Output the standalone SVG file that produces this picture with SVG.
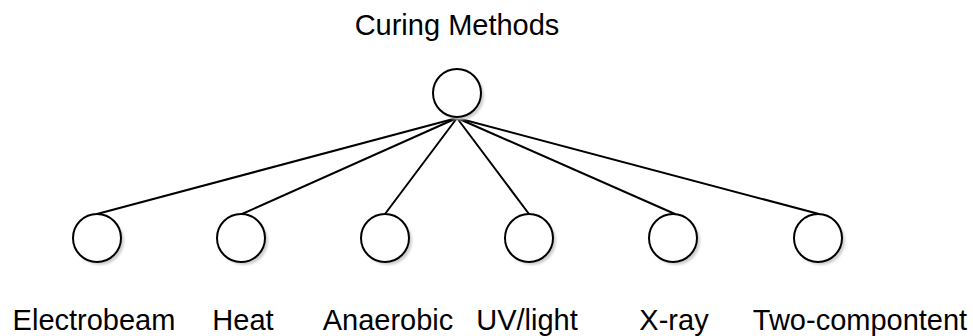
<svg xmlns="http://www.w3.org/2000/svg" width="973" height="336" viewBox="0 0 973 336">
  <style>
    .node { fill: #ffffff; stroke: #000000; stroke-width: 2; }
    .shadow { fill: #cfcfcf; filter: url(#soft); }
    .edge { stroke: #000000; stroke-width: 2; fill: none; stroke-linecap: round; }
    .label { font-family: "Liberation Sans", Arial, sans-serif; font-size: 29px; fill: #000000; }
  </style>
  <defs>
    <filter id="soft" x="-20%" y="-20%" width="140%" height="140%">
      <feGaussianBlur stdDeviation="1"/>
    </filter>
  </defs>
  <rect width="973" height="336" fill="#ffffff"/>

  <!-- connectors from the root to each method -->
  <g id="connectors">
    <line class="edge" x1="457" y1="118" x2="97" y2="214"/>
    <line class="edge" x1="457" y1="118" x2="242" y2="214"/>
    <line class="edge" x1="457" y1="118" x2="385" y2="214"/>
    <line class="edge" x1="457" y1="118" x2="529" y2="214"/>
    <line class="edge" x1="457" y1="118" x2="675" y2="214"/>
    <line class="edge" x1="457" y1="118" x2="819" y2="214"/>
  </g>

  <g id="root">
    <circle class="shadow" cx="460" cy="96" r="24"/>
    <circle class="node" cx="457" cy="93" r="24"/>
    <text class="label" x="457" y="35" text-anchor="middle">Curing Methods</text>
  </g>

  <g id="electrobeam">
    <circle class="shadow" cx="100" cy="241" r="24"/>
    <circle class="node" cx="97" cy="238" r="24"/>
    <text class="label" x="94" y="330" text-anchor="middle">Electrobeam</text>
  </g>

  <g id="heat">
    <circle class="shadow" cx="244" cy="241" r="24"/>
    <circle class="node" cx="241" cy="238" r="24"/>
    <text class="label" x="243" y="330" text-anchor="middle">Heat</text>
  </g>

  <g id="anaerobic">
    <circle class="shadow" cx="388" cy="241" r="24"/>
    <circle class="node" cx="385" cy="238" r="24"/>
    <text class="label" x="388" y="330" text-anchor="middle">Anaerobic</text>
  </g>

  <g id="uv-light">
    <circle class="shadow" cx="532" cy="241" r="24"/>
    <circle class="node" cx="529" cy="238" r="24"/>
    <text class="label" x="527" y="330" text-anchor="middle">UV/light</text>
  </g>

  <g id="x-ray">
    <circle class="shadow" cx="676" cy="241" r="24"/>
    <circle class="node" cx="673" cy="238" r="24"/>
    <text class="label" x="674" y="330" text-anchor="middle">X-ray</text>
  </g>

  <g id="two-component">
    <circle class="shadow" cx="821" cy="241" r="24"/>
    <circle class="node" cx="818" cy="238" r="24"/>
    <text class="label" x="860" y="330" text-anchor="middle">Two-compontent</text>
  </g>
</svg>
